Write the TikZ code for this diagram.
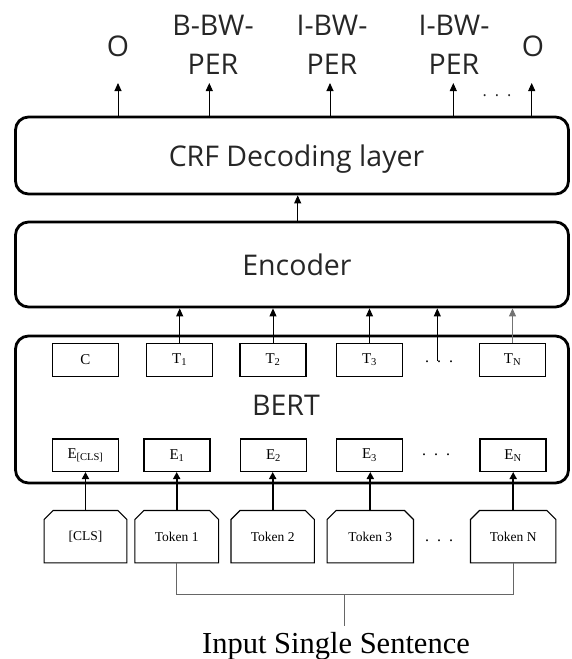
\documentclass[tikz,border=0pt]{standalone}
\usepackage{fontspec}
\setmainfont{Liberation Serif}
\newfontfamily\labfont{Open Sans}
\usetikzlibrary{arrows.meta}
\begin{document}
\begin{tikzpicture}[x=1pt,y=-1pt,
 bigbox/.style={draw, line width=2.8pt, rounded corners=13pt, inner sep=0},
 bigtext/.style={font=\labfont\fontsize{28.5}{28.5}\selectfont, text=black!85, anchor=base, inner sep=0},
 inbox/.style={draw, line width=1.1pt, minimum width=66pt, minimum height=32.5pt, inner sep=0, font=\fontsize{15}{15}\selectfont},
 tokbox/.style={minimum height=52pt, inner sep=0, font=\fontsize{13.5}{13.5}\selectfont},
 tag/.style={font=\labfont\fontsize{28.5}{39}\selectfont, align=center, inner sep=0, text=black!85},
 thinarrow/.style={line width=0.9pt, -{Triangle[width=7pt,length=8pt]}},
 boldarrow/.style={line width=1.8pt, -{Triangle[width=7pt,length=7pt]}},
 dotsnode/.style={inner sep=0, font=\fontsize{16}{16}\selectfont},
 bracket/.style={line width=0.9pt, draw=black!60},
 chamfer/.style={line width=1.1pt}
]
\useasboundingbox (0,0) rectangle (571,659);

% big boxes
\node[bigbox, minimum width=553pt, minimum height=77pt] (crf) at (292,155.5) {};
\node[bigbox, minimum width=553pt, minimum height=85pt] (enc) at (292,264.5) {};
\node[bigbox, minimum width=553pt, minimum height=147pt] (bert) at (292,409.5) {};
\node[bigtext] (crft) at (296.5,166) {CRF Decoding layer};
\node[bigtext] (enct) at (297,275.7) {Encoder};
\node[bigtext] (bertt) at (286,415) {BERT};

% output tags
\node[tag] (o1) at (118,46) {O};
\node[tag] (l2) at (213,44.5) {B-BW-\\PER};
\node[tag] (l3) at (332,44.5) {I-BW-\\PER};
\node[tag] (l4) at (454,44.5) {I-BW-\\PER};
\node[tag] (o5) at (533,46) {O};
\node[dotsnode, font=\labfont\fontsize{16}{16}\selectfont, text=black!85] (topdots) at (497,96) {.\hspace{8pt}.\hspace{8pt}.};

\coordinate (a1) at (118,83);
\coordinate (a2) at (209.3,83);
\coordinate (a3) at (330,83);
\coordinate (a4) at (453.3,83);
\coordinate (a5) at (531.7,83);
\foreach \a in {a1,a2,a3,a4,a5}{
  \draw[thinarrow] (crf.north -| \a) -- (\a);
}
\draw[thinarrow] ([xshift=5.7pt]enc.north) -- ([xshift=5.7pt]crf.south);

% T row
\node[inbox] (c) at (85.5,360) {C};
\node[inbox] (t1) at (179.7,360) {T\textsubscript{1}};
\node[inbox] (t2) at (273,360) {T\textsubscript{2}};
\node[inbox] (t3) at (369.5,360) {T\textsubscript{3}};
\node[dotsnode] (tdots) at (439,362) {.\hspace{8pt}.\hspace{8pt}.};
\node[inbox] (tn) at (512.5,360) {T\textsubscript{N}};

% E row
\node[inbox] (ecls) at (85.5,455.2) {E\textsubscript{[CLS]}};
\node[inbox] (e1) at (177,455.2) {E\textsubscript{1}};
\node[inbox] (e2) at (273.5,455.2) {E\textsubscript{2}};
\node[inbox] (e3) at (369.5,455.2) {E\textsubscript{3}};
\node[dotsnode] (edots) at (436,455) {.\hspace{8pt}.\hspace{8pt}.};
\node[inbox] (en) at (513,455.2) {E\textsubscript{N}};

% T -> encoder
\draw[thinarrow] (t1.north) -- (t1.north |- enc.south);
\draw[thinarrow] (t2.north) -- (t2.north |- enc.south);
\draw[thinarrow] (t3.north) -- (t3.north |- enc.south);
\draw[thinarrow] ([xshift=-1.7pt]tdots.north) -- ([xshift=-1.7pt]tdots.north |- enc.south);
\draw[thinarrow, draw=black!55] (tn.north) -- (tn.north |- enc.south);

% tokens
\node[tokbox, minimum width=82.4pt] (tcls) at (85.5,536.7) {[CLS]};
\node[tokbox, minimum width=83.3pt] (tk1) at (176.7,536.7) {Token 1};
\node[tokbox, minimum width=83pt] (tk2) at (272.7,536.7) {Token 2};
\node[tokbox, minimum width=86pt] (tk3) at (370.3,536.7) {Token 3};
\node[dotsnode] (kdots) at (439,541) {.\hspace{8pt}.\hspace{8pt}.};
\node[tokbox, minimum width=85pt] (tkn) at (513.2,536.7) {Token N};
\foreach \n in {tcls,tk1,tk2,tk3,tkn}{
  \draw[chamfer] (\n.south west) -- ([yshift=-9pt]\n.north west) -- ([xshift=9pt]\n.north west)
    -- ([xshift=-9pt]\n.north east) -- ([yshift=-9pt]\n.north east) -- (\n.south east) -- cycle;
}

% token -> E
\draw[boldarrow] (tcls.north) -- (tcls.north |- ecls.south);
\draw[boldarrow] (tk1.north) -- (tk1.north |- e1.south);
\draw[boldarrow] (tk2.north) -- (tk2.north |- e2.south);
\draw[boldarrow] (tk3.north) -- (tk3.north |- e3.south);
\draw[boldarrow] (tkn.north) -- (tkn.north |- en.south);

% bracket
\coordinate (jn) at (344.3,594.3);
\coordinate (st) at (344.3,626);
\draw[bracket] (tk1.south) -- (tk1.south |- jn) -- (tkn.south |- jn) -- (tkn.south);
\draw[bracket] (jn) -- (st);
\node[font=\fontsize{30.5}{30.5}\selectfont, anchor=base, inner sep=0] (inp) at (336,653) {Input Single Sentence};
\end{tikzpicture}
\end{document}
